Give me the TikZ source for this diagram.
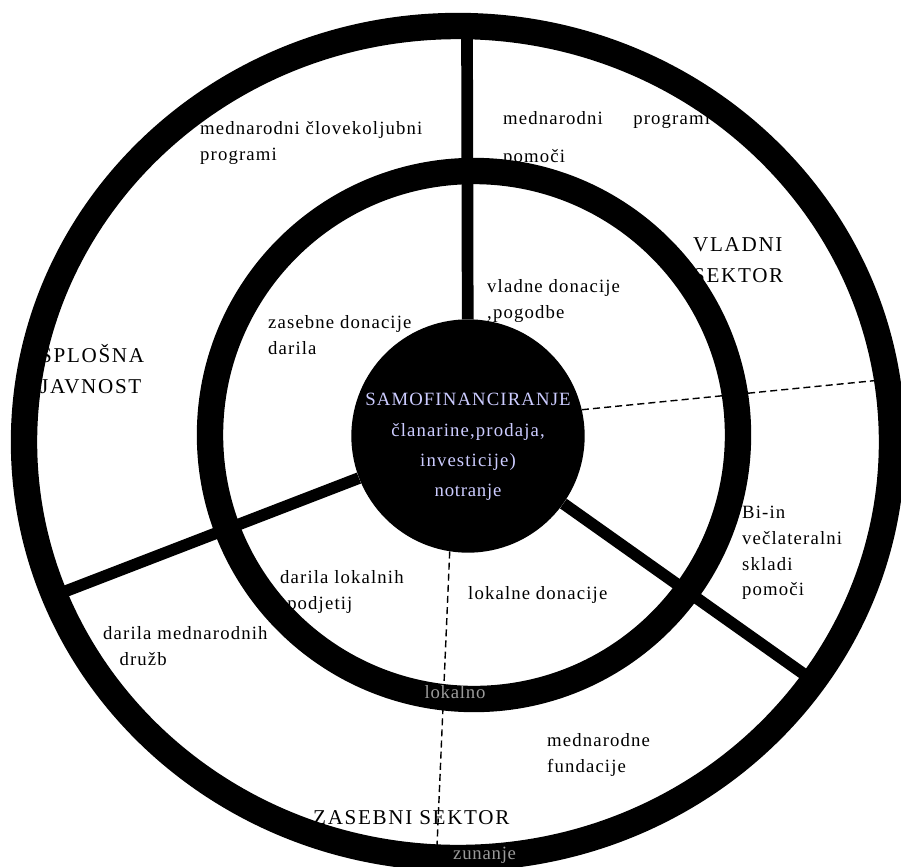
\documentclass[tikz,border=0pt]{standalone}
\usepackage{fontspec}
\setmainfont{Liberation Serif}
\definecolor{lavender}{HTML}{CCCCFF}
\definecolor{ringtext}{HTML}{9A9A9A}

\begin{document}
\begin{tikzpicture}[
        x=0.03cm, y=-0.03cm,
        lbl/.style={anchor=west, align=left, inner sep=0pt, font=\fontsize{16}{22}\selectfont\addfontfeature{LetterSpace=6}},
        sector/.style={anchor=west, align=left, inner sep=0pt, font=\fontsize{18}{27}\selectfont\addfontfeature{LetterSpace=8}},
        ring/.style={draw=black, line width=22.5pt},
        spoke/.style={draw=black, line width=10pt},
        divider/.style={draw=black, line width=1.2pt, dash pattern=on 6pt off 3.5pt},
        inring/.style={text=ringtext, inner sep=0pt, font=\fontsize{16}{20}\selectfont\addfontfeature{LetterSpace=4}}
    ]
        \useasboundingbox (0,0) rectangle (901,866);
        \clip (0,0) rectangle (901,866);

        % outer sector labels (under the rings)
        \node[lbl] (humanit) at (200,143) {mednarodni človekoljubni\\programi};
        \node[lbl, font=\fontsize{16}{32}\selectfont\addfontfeature{LetterSpace=6}] (intlprog) at (503,139) {mednarodni\hspace{26pt}programi\\pomoči};
        \node[sector] (vladni) at (693,260) {VLADNI\\SEKTOR};
        \node[sector] (splosna) at (40,369) {SPLOŠNA\\JAVNOST};
        \node[lbl] (bilat) at (742,553) {Bi-in\\večlateralni\\skladi\\pomoči};
        \node[lbl] (intlfirms) at (103,646) {darila mednarodnih\\\hspace*{14pt}družb};
        \node[lbl] (fundacije) at (547,755) {mednarodne\\fundacije};
        \node[sector] (zasebni) at (313,818) {ZASEBNI SEKTOR};

        % inner sector labels
        \node[lbl] (vladne) at (487,301) {vladne donacije\\,pogodbe};
        \node[lbl] (zasebne) at (268,335) {zasebne donacije\\darila};
        \node[lbl] (podjetja) at (280,592) {darila lokalnih\\\hspace*{6pt}podjetij};
        \node[lbl] (lokalne) at (468,595) {lokalne donacije};

        % centre
        \node[circle, fill=black, minimum size=7cm, inner sep=0pt] (samo) at (468,436) {};

        % spokes
        \coordinate (ringN) at (467,24);
        \coordinate (ringW) at (48,598);
        \coordinate (ringSE) at (815,682);
        \draw[spoke] (samo) -- (ringN);
        \draw[spoke] (samo) -- (ringW);
        \draw[spoke] (samo) -- (ringSE);

        % rings
        \draw[ring] (474,435) circle [radius=264];
        \draw[ring] (458,442) ellipse [x radius=434, y radius=416];

        % dashed dividers
        \coordinate (dashE) at (881,380);
        \coordinate (dashS) at (437,846);
        \draw[divider] (samo.13) -- (dashE);
        \draw[divider] (samo.-99) -- (dashS);

        \node[align=center, text=lavender, inner sep=0pt, font=\fontsize{16}{26}\selectfont\addfontfeature{LetterSpace=6}] (samotxt) at (468,432) {SAMOFINANCIRANJE\\članarine,prodaja,\\investicije)};
        \node[text=lavender, inner sep=0pt, font=\fontsize{16}{20}\selectfont\addfontfeature{LetterSpace=4}] (notranje) at (468,492) {notranje};

        \node[inring] (lokalno) at (455,692) {lokalno};
        \node[inring, anchor=west] (zunanje) at (453,855) {zunanje};
    \end{tikzpicture}
\end{document}
